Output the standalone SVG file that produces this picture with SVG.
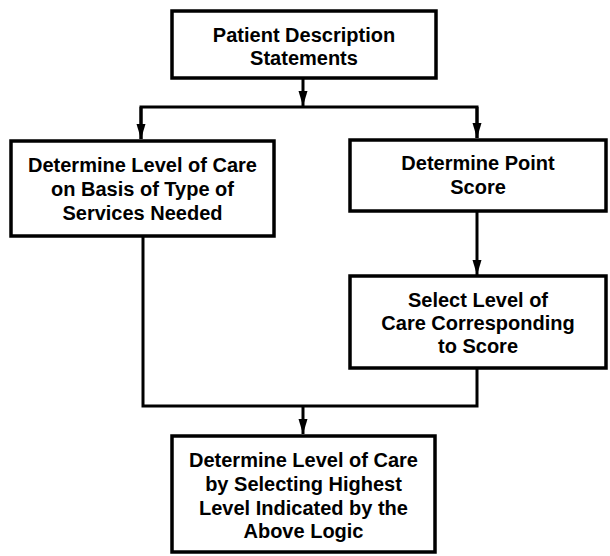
<svg xmlns="http://www.w3.org/2000/svg" width="610" height="556" viewBox="0 0 610 556">
<defs>
<style>
.box{fill:#fff;stroke:#000;stroke-width:3.5}
.ln{fill:none;stroke:#000;stroke-width:3}
text{font-family:"Liberation Sans",Arial,Helvetica,sans-serif;font-size:20px;font-weight:bold;text-anchor:middle;fill:#000}
</style>
<marker id="ah" markerUnits="userSpaceOnUse" viewBox="0 0 15 10" refX="15" refY="5" markerWidth="15" markerHeight="10" orient="auto">
<path d="M0,0.5 L15,5 L0,9.5 Z" fill="#000"/>
</marker>
</defs>
<rect width="610" height="556" fill="#fff"/>
<g id="connectors">
<line class="ln" x1="303" y1="78" x2="303" y2="106" marker-end="url(#ah)"/>
<polyline class="ln" points="141,139 141,107 477,107 477,138"/>
<line class="ln" x1="141" y1="107" x2="141" y2="139" marker-end="url(#ah)"/>
<line class="ln" x1="477" y1="107" x2="477" y2="138" marker-end="url(#ah)"/>
<line class="ln" x1="477" y1="211" x2="477" y2="275" marker-end="url(#ah)"/>
<polyline class="ln" points="143,236 143,406 477,406 477,368"/>
<line class="ln" x1="303" y1="406" x2="303" y2="434" marker-end="url(#ah)"/>
</g>
<g id="n1">
<rect class="box" x="172" y="11" width="264" height="67"/>
<text x="304" y="42">Patient Description</text>
<text x="304" y="65">Statements</text>
</g>
<g id="n2">
<rect class="box" x="11" y="141" width="263" height="95"/>
<text x="142.5" y="172">Determine Level of Care</text>
<text x="142.5" y="196">on Basis of Type of</text>
<text x="142.5" y="220">Services Needed</text>
</g>
<g id="n3">
<rect class="box" x="350" y="140" width="256" height="71"/>
<text x="478" y="170">Determine Point</text>
<text x="478" y="194">Score</text>
</g>
<g id="n4">
<rect class="box" x="350" y="276" width="256" height="92"/>
<text x="478" y="307">Select Level of</text>
<text x="478" y="330">Care Corresponding</text>
<text x="478" y="353">to Score</text>
</g>
<g id="n5">
<rect class="box" x="172" y="436" width="263" height="116"/>
<text x="303.5" y="467">Determine Level of Care</text>
<text x="303.5" y="491">by Selecting Highest</text>
<text x="303.5" y="515">Level Indicated by the</text>
<text x="303.5" y="538">Above Logic</text>
</g>
</svg>
